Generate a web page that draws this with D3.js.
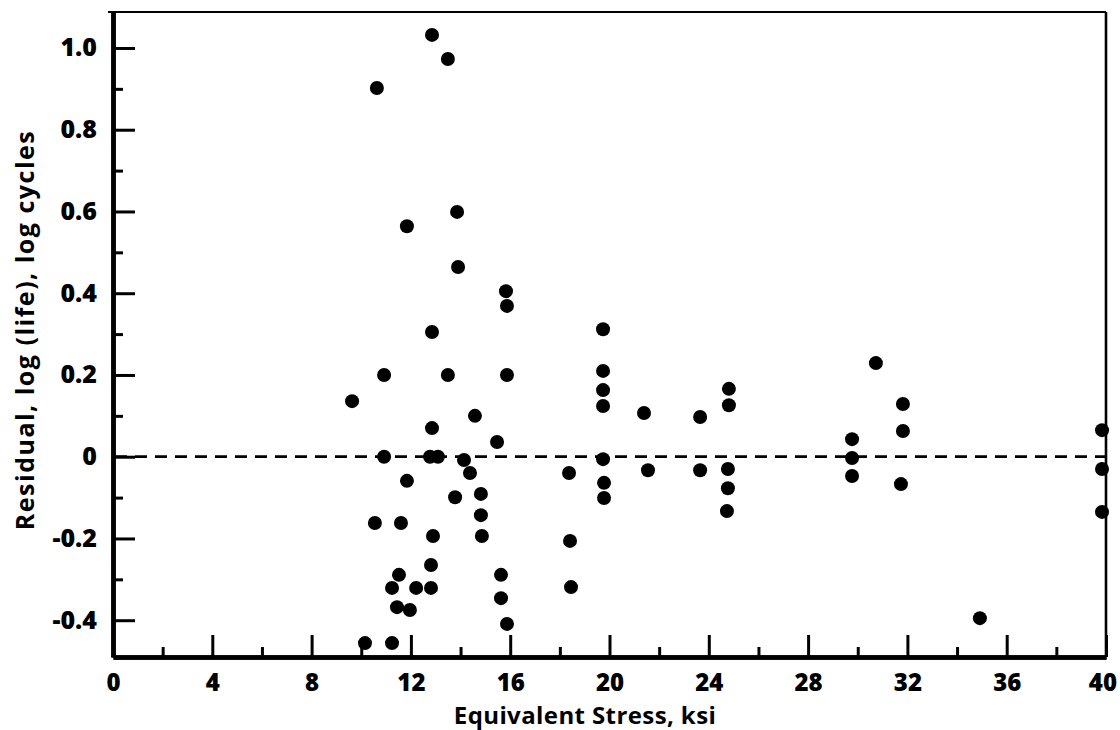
<!DOCTYPE html>
<html>
<head>
<meta charset="utf-8">
<script src="https://cdn.jsdelivr.net/npm/d3@7"></script>
<style>
  html, body { margin: 0; padding: 0; background: #fff; }
  svg { display: block; }
  text { font-family: "Open Sans", "DejaVu Sans", sans-serif; font-weight: 700; fill: #000; }
</style>
</head>
<body>
<svg id="chart" width="1120" height="730"></svg>
<script>
// Equivalent stress (ksi) of each specimen
const stress = [
  9.63, 10.63, 10.92, 10.92, 10.55, 11.60, 11.84, 13.78, 14.38, 14.82,
  14.82, 14.86, 12.89, 12.81, 11.52, 11.24, 12.21, 12.81, 11.44, 11.96,
  10.15, 11.24, 15.63, 15.63, 15.87, 15.87, 12.85, 13.49, 15.87, 14.58,
  12.85, 15.47, 12.77, 13.09, 14.14, 12.85, 13.49, 13.86, 11.84, 13.90,
  15.83, 19.74, 19.74, 19.74, 19.74, 21.39, 23.65, 24.81, 24.81, 19.74,
  18.37, 21.55, 23.65, 24.77, 24.77, 19.78, 19.78, 18.41, 18.45, 24.73,
  30.73, 31.82, 31.82, 29.77, 29.77, 29.77, 31.74, 34.92, 39.84, 39.84,
  39.84
];
// Residual, log (life), log cycles
const residual = [
  0.136, 0.902, 0.200, 0.000, -0.162, -0.162, -0.059, -0.099, -0.040, -0.091,
  -0.143, -0.194, -0.194, -0.265, -0.289, -0.321, -0.321, -0.321, -0.368, -0.375,
  -0.456, -0.456, -0.289, -0.346, -0.409, 0.369, 0.305, 0.200, 0.200, 0.100,
  0.070, 0.036, 0.000, 0.000, -0.008, 1.032, 0.973, 0.599, 0.564, 0.464,
  0.405, 0.312, 0.210, 0.163, 0.124, 0.107, 0.097, 0.166, 0.126, -0.006,
  -0.040, -0.033, -0.033, -0.030, -0.077, -0.064, -0.101, -0.206, -0.319, -0.133,
  0.229, 0.129, 0.063, 0.043, -0.003, -0.047, -0.067, -0.395, 0.065, -0.030,
  -0.135
];
const xMajorTicks = [0, 4, 8, 12, 16, 20, 24, 28, 32, 36, 40];
const xTickLabels = ["0", "4", "8", "12", "16", "20", "24", "28", "32", "36", "40"];
const xMinorTicks = [2, 6, 10, 14, 18, 22, 26, 30, 34, 38];
const yMajorTicks = [1.0, 0.8, 0.6, 0.4, 0.2, 0, -0.2, -0.4];
const yTickLabels = ["1.0", "0.8", "0.6", "0.4", "0.2", "0", "-0.2", "-0.4"];
const yMinorTicks = [0.9, 0.7, 0.5, 0.3, 0.1, -0.1, -0.3];
const xTitle = "Equivalent Stress, ksi";
const yTitle = "Residual, log (life), log cycles";

const svg = d3.select("#chart");
const mLeft = 113, mRight = 1106, mTop = 12, mBottom = 657;

const x = d3.scaleLinear().domain([0, 40]).range([mLeft, mRight]);
const y = d3.scaleLinear().domain([-0.49, 1.088]).range([mBottom, mTop]);

// frame top & right (thin)
svg.append("line").attr("x1", mLeft - 5).attr("x2", mRight).attr("y1", mTop).attr("y2", mTop)
  .attr("stroke", "#000").attr("stroke-width", 2.2);
svg.append("line").attr("x1", mRight).attr("x2", mRight).attr("y1", mTop).attr("y2", mBottom)
  .attr("stroke", "#000").attr("stroke-width", 2.6);

// minor ticks
const yMinor = svg.append("g").attr("transform", `translate(${mLeft},0)`)
  .call(d3.axisLeft(y).tickValues(yMinorTicks).tickSizeInner(-10).tickSizeOuter(0).tickFormat(""));
const xMinor = svg.append("g").attr("transform", `translate(0,${mBottom})`)
  .call(d3.axisBottom(x).tickValues(xMinorTicks).tickSizeInner(-10).tickSizeOuter(0).tickFormat(""));

// major ticks with labels
const yAxis = svg.append("g").attr("transform", `translate(${mLeft},0)`)
  .call(d3.axisLeft(y).tickValues(yMajorTicks).tickSizeInner(-22).tickSizeOuter(0).tickPadding(16)
    .tickFormat((d, i) => yTickLabels[i]));
const xAxis = svg.append("g").attr("transform", `translate(0,${mBottom})`)
  .call(d3.axisBottom(x).tickValues(xMajorTicks).tickSizeInner(-22).tickSizeOuter(0).tickPadding(17)
    .tickFormat((d, i) => xTickLabels[i]));

[yMinor, xMinor, yAxis, xAxis].forEach(g => {
  g.selectAll(".tick line").attr("stroke", "#000").attr("stroke-width", 3);
  g.selectAll(".domain").attr("stroke", "#000").attr("stroke-width", 4.5);
  g.selectAll("text").style("font-family", '"Open Sans", sans-serif')
    .style("font-weight", 800).style("font-size", "25px").attr("fill", "#000");
});
xAxis.selectAll("text").style("font-size", "24px");
xAxis.select(".tick:last-of-type text").attr("dx", "-0.15em");

// zero reference line (dashed)
svg.append("line")
  .attr("x1", mLeft + 2).attr("x2", mRight)
  .attr("y1", y(0)).attr("y2", y(0))
  .attr("stroke", "#000").attr("stroke-width", 2.8)
  .attr("stroke-dasharray", "12,8");

// points
svg.append("g").selectAll("circle")
  .data(stress.map((s, i) => [s, residual[i]]))
  .join("circle")
  .attr("cx", d => x(d[0]))
  .attr("cy", d => y(d[1]))
  .attr("r", 7)
  .attr("fill", "#000");

// axis titles
svg.append("text")
  .attr("x", 585).attr("y", 724)
  .attr("text-anchor", "middle")
  .style("font-size", "24px")
  .style("letter-spacing", "0.4px")
  .text(xTitle);
svg.append("text")
  .attr("transform", "translate(34,330) rotate(-90)")
  .attr("text-anchor", "middle")
  .style("font-size", "25px")
  .style("letter-spacing", "1.5px")
  .text(yTitle);
</script>
</body>
</html>
